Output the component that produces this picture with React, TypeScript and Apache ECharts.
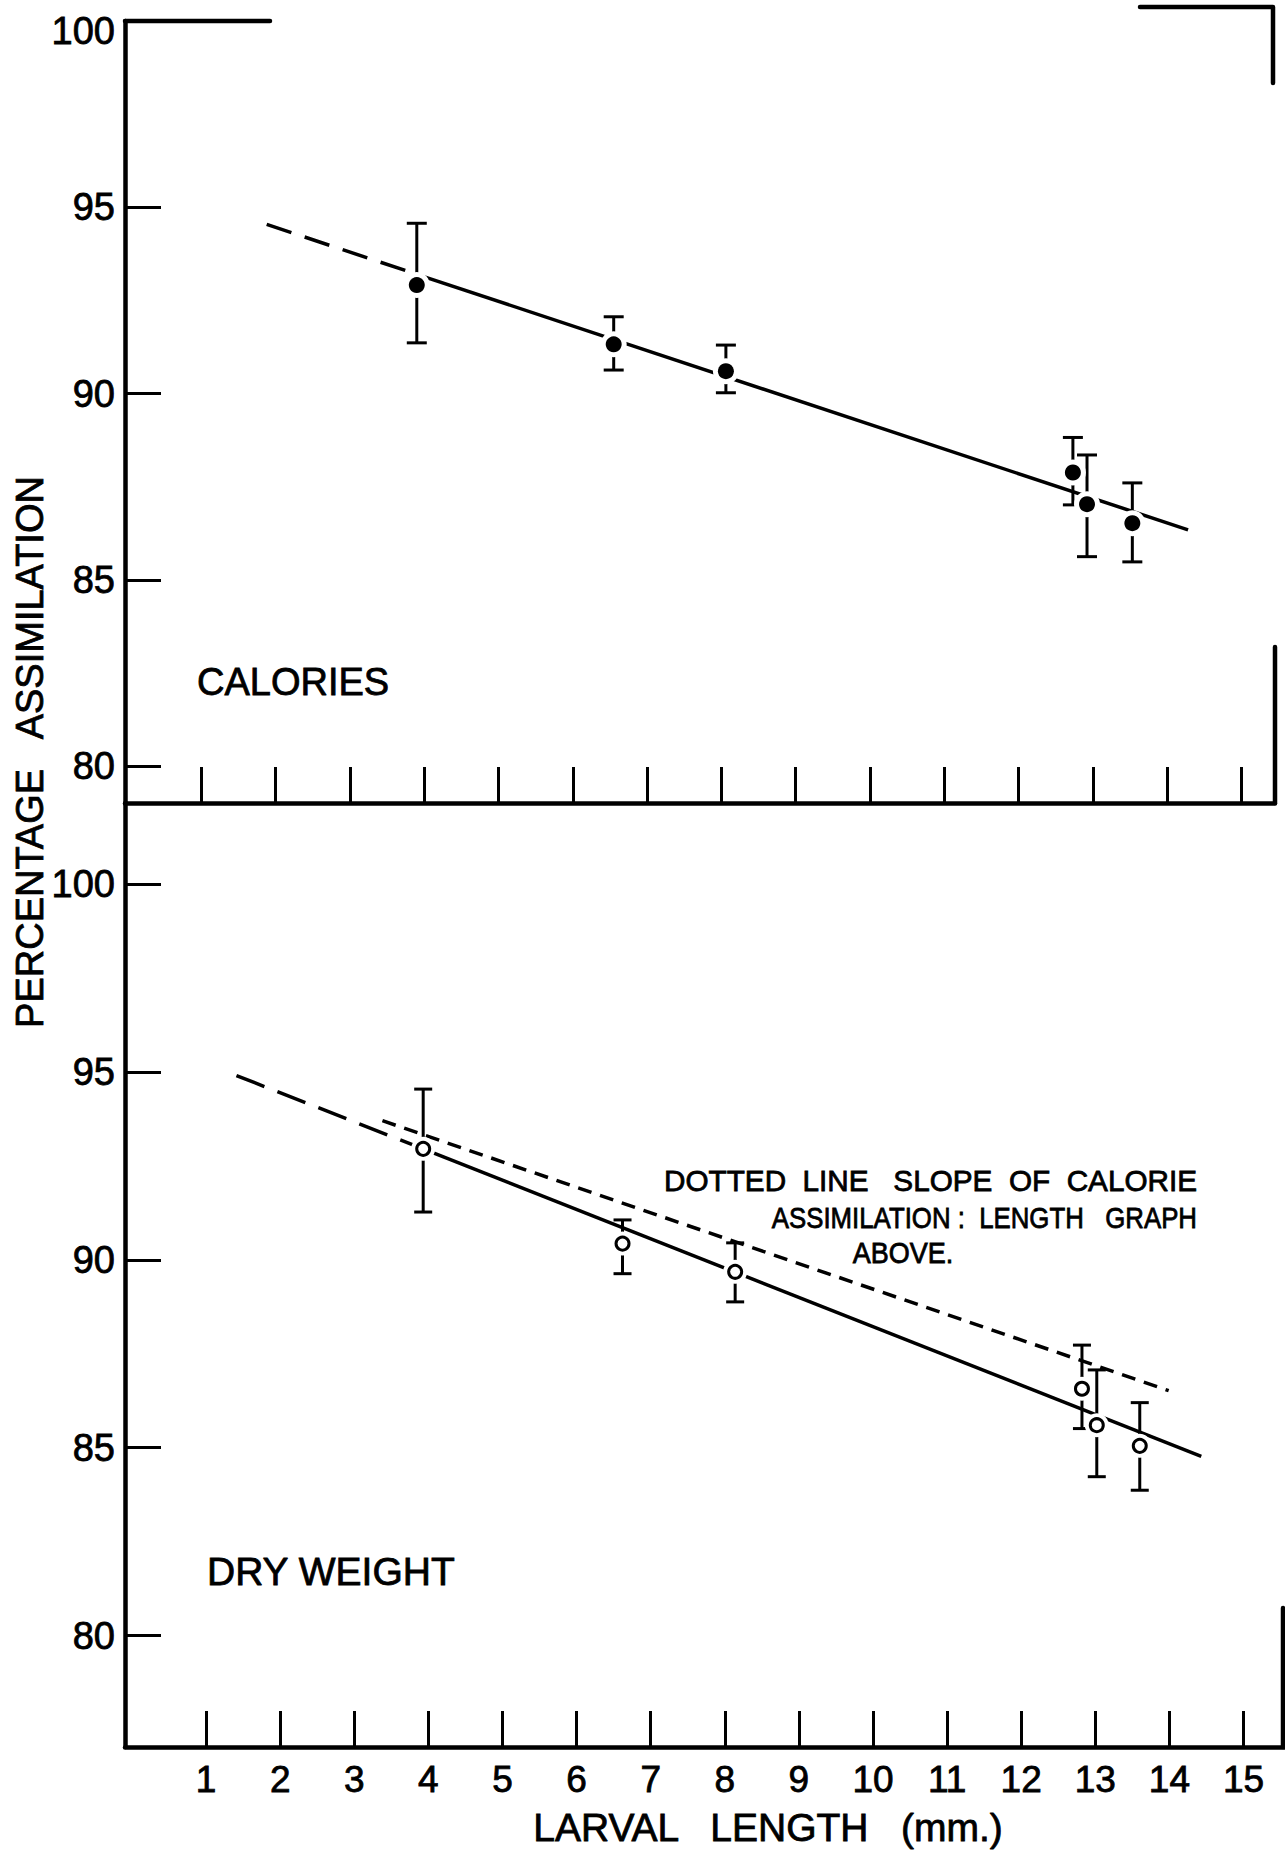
import React, { useEffect, useRef } from "react";
import * as echarts from "echarts";

// ---------- data ----------
const xTickValues = [1, 2, 3, 4, 5, 6, 7, 8, 9, 10, 11, 12, 13, 14, 15];
const yTickTop = [80, 85, 90, 95];
const yLabelTop = [80, 85, 90, 95, 100];
const yTickBottom = [80, 85, 90, 95, 100];
const yLabelBottom = [80, 85, 90, 95, 100];

// Calories panel (filled dots)
const calX = [3.9, 6.55, 8.06, 12.73, 12.92, 13.53];
const calMean = [92.91, 91.32, 90.6, 87.88, 87.03, 86.52];
const calLow = [91.36, 90.63, 90.02, 87.01, 85.62, 85.48];
const calHigh = [94.57, 92.06, 91.3, 88.82, 88.35, 87.6];
const calFitX = [3.9, 14.28];
const calFitY = [93.2, 86.34];
const calExtX = [1.88, 3.9];
const calExtY = [94.54, 93.2];

// Dry weight panel (open circles)
const dryX = [3.93, 6.62, 8.14, 12.82, 13.02, 13.6];
const dryMean = [92.95, 90.43, 89.68, 86.57, 85.6, 85.05];
const dryLow = [91.27, 89.63, 88.88, 85.51, 84.23, 83.87];
const dryHigh = [94.54, 91.06, 90.45, 87.73, 87.07, 86.2];
const dryFitX = [3.93, 14.43];
const dryFitY = [92.95, 84.77];
const dryExtX = [1.41, 3.93];
const dryExtY = [94.9, 92.95];
const calSlopeX = [3.38, 13.99];
const calSlopeY = [93.7, 86.52];

const FONT = "'Liberation Sans', Arial, 'DejaVu Sans', sans-serif";

const zip = (a: number[], b: number[]) => a.map((v, i) => [v, b[i]]);
const zip3 = (a: number[], b: number[], c: number[]) => a.map((v, i) => [v, b[i], c[i]]);

function errorBarSeries(xi: number, x: number[], lo: number[], hi: number[], cap: number) {
  return {
    type: "custom",
    xAxisIndex: xi,
    yAxisIndex: xi,
    z: 3,
    silent: true,
    data: zip3(x, lo, hi),
    renderItem: (params: any, api: any) => {
      const xv = api.value(0);
      const a = api.coord([xv, api.value(1)]);
      const b = api.coord([xv, api.value(2)]);
      const st = { stroke: "#000", lineWidth: 3 };
      return {
        type: "group",
        children: [
          { type: "line", shape: { x1: a[0], y1: a[1], x2: b[0], y2: b[1] }, style: st },
          { type: "line", shape: { x1: a[0] - cap, y1: a[1], x2: a[0] + cap, y2: a[1] }, style: st },
          { type: "line", shape: { x1: b[0] - cap, y1: b[1], x2: b[0] + cap, y2: b[1] }, style: st },
        ],
      };
    },
  };
}

function lineSeries(xi: number, x: number[], y: number[], type: any) {
  return {
    type: "line",
    xAxisIndex: xi,
    yAxisIndex: xi,
    z: 2,
    silent: true,
    symbol: "none",
    data: zip(x, y),
    lineStyle: { color: "#000", width: 3.5, type },
  };
}

function haloSeries(xi: number, x: number[], y: number[], size: number) {
  return {
    type: "scatter",
    xAxisIndex: xi,
    yAxisIndex: xi,
    z: 4,
    silent: true,
    symbol: "circle",
    symbolSize: size,
    itemStyle: { color: "#fff", opacity: 1 },
    data: zip(x, y),
  };
}

const axisLineStyle = { color: "#000", width: 4.5 };
const tickStyle = { color: "#000", width: 3 };
const labelBase = {
  color: "#000",
  fontFamily: FONT,
  textBorderColor: "#000",
  textBorderWidth: 0.8,
};

function txt(text: string, x: number, y: number, fontSize: number, align: string, scaleX = 1, rotation = 0) {
  return {
    type: "text",
    x,
    y,
    scaleX,
    rotation,
    style: {
      text,
      fontSize,
      fontFamily: FONT,
      fill: "#000",
      stroke: "#000",
      lineWidth: 0.8,
      textAlign: align,
      textVerticalAlign: "middle",
    },
  };
}

export default function App() {
  const ref = useRef<HTMLDivElement>(null);
  useEffect(() => {
    if (!ref.current) return;
    const chart = echarts.init(ref.current, undefined, { renderer: "svg" });
    const option: any = {
      animation: false,
      backgroundColor: "#fff",
      grid: [
        { left: 125, top: 21, width: 1150, height: 782 },
        { left: 125, top: 803, width: 1160, height: 944 },
      ],
      xAxis: [
        {
          gridIndex: 0,
          type: "value",
          min: -0.027,
          max: 15.45,
          axisLine: { show: true, onZero: false, lineStyle: axisLineStyle },
          axisTick: { show: true, inside: true, length: 36, customValues: xTickValues, lineStyle: tickStyle },
          axisLabel: { show: false },
          splitLine: { show: false },
        },
        {
          gridIndex: 1,
          type: "value",
          min: -0.094,
          max: 15.56,
          axisLine: { show: true, onZero: false, lineStyle: axisLineStyle },
          axisTick: { show: true, inside: true, length: 36, customValues: xTickValues, lineStyle: tickStyle },
          axisLabel: {
            ...labelBase,
            show: true,
            customValues: xTickValues,
            fontSize: 37,
            margin: 14,
          },
          splitLine: { show: false },
        },
      ],
      yAxis: [
        {
          gridIndex: 0,
          type: "value",
          min: 79.007,
          max: 100,
          axisLine: { show: true, onZero: false, lineStyle: axisLineStyle },
          axisTick: { show: true, inside: true, length: 36, customValues: yTickTop, lineStyle: tickStyle },
          axisLabel: {
            ...labelBase,
            show: true,
            customValues: yLabelTop,
            fontSize: 38,
            margin: 10,
            formatter: (v: number) => (v === 100 ? "{t|100}" : "{n|" + v + "}"),
            rich: {
              t: { ...labelBase, fontSize: 38, padding: [20, 0, 0, 0] },
              n: { ...labelBase, fontSize: 38 },
            },
          },
          splitLine: { show: false },
        },
        {
          gridIndex: 1,
          type: "value",
          min: 77.04,
          max: 102.15,
          axisLine: { show: true, onZero: false, lineStyle: axisLineStyle },
          axisTick: { show: true, inside: true, length: 36, customValues: yTickBottom, lineStyle: tickStyle },
          axisLabel: {
            ...labelBase,
            show: true,
            customValues: yLabelBottom,
            fontSize: 38,
            margin: 10,
          },
          splitLine: { show: false },
        },
      ],
      series: [
        // top panel
        lineSeries(0, calExtX, calExtY, [26, 14]),
        lineSeries(0, calFitX, calFitY, "solid"),
        errorBarSeries(0, calX, calLow, calHigh, 10),
        haloSeries(0, calX, calMean, 26),
        {
          type: "scatter",
          xAxisIndex: 0,
          yAxisIndex: 0,
          z: 5,
          silent: true,
          symbol: "circle",
          symbolSize: 16,
          itemStyle: { color: "#000", opacity: 1 },
          data: zip(calX, calMean),
        },
        // bottom panel
        lineSeries(1, dryExtX, dryExtY, [30, 14]),
        lineSeries(1, dryFitX, dryFitY, "solid"),
        lineSeries(1, calSlopeX, calSlopeY, [14, 9]),
        errorBarSeries(1, dryX, dryLow, dryHigh, 9),
        haloSeries(1, dryX, dryMean, 24),
        {
          type: "scatter",
          xAxisIndex: 1,
          yAxisIndex: 1,
          z: 5,
          silent: true,
          symbol: "circle",
          symbolSize: 13,
          itemStyle: { color: "#fff", borderColor: "#000", borderWidth: 3, opacity: 1 },
          data: zip(dryX, dryMean),
        },
      ],
      graphic: [
        { type: "line", shape: { x1: 125, y1: 21, x2: 270, y2: 21 }, style: { stroke: "#000", lineWidth: 4.5, lineCap: "round" } },
        {
          type: "polyline",
          shape: { points: [[1140, 7], [1273, 7], [1273, 83]] },
          style: { stroke: "#000", fill: null, lineWidth: 4.5, lineCap: "round", lineJoin: "round" },
        },
        { type: "line", shape: { x1: 1275, y1: 647, x2: 1275, y2: 803 }, style: { stroke: "#000", lineWidth: 4.5, lineCap: "round" } },
        { type: "line", shape: { x1: 1283, y1: 1608, x2: 1283, y2: 1747 }, style: { stroke: "#000", lineWidth: 4.5, lineCap: "round" } },
        txt("CALORIES", 197, 682, 38, "left"),
        txt("DRY WEIGHT", 207, 1571, 39, "left"),
        txt("DOTTED  LINE   SLOPE  OF  CALORIE", 1197, 1180, 30, "right", 0.99),
        txt("ASSIMILATION :  LENGTH   GRAPH", 1197, 1218, 30, "right", 0.86),
        txt("ABOVE.", 903, 1252, 30, "center", 0.9),
        txt("LARVAL   LENGTH   (mm.)", 768, 1827, 39, "center"),
        txt("PERCENTAGE   ASSIMILATION", 30, 752, 38, "center", 1, Math.PI / 2),
      ],
    };
    chart.setOption(option);
    return () => chart.dispose();
  }, []);
  return (
    <div
      ref={ref}
      style={{ position: "absolute", left: 0, top: 0, width: 1285, height: 1854, background: "#fff" }}
    />
  );
}
